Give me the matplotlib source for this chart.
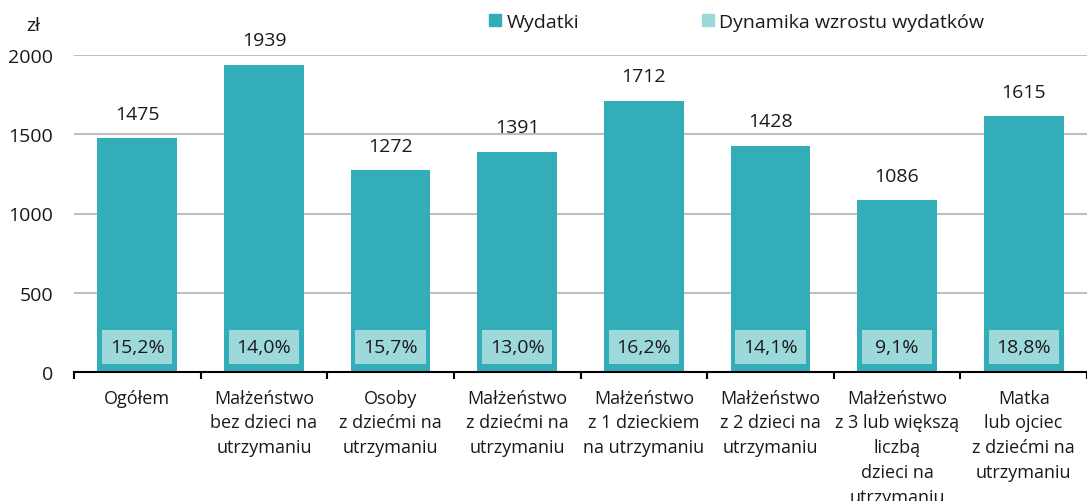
import numpy as np
import matplotlib.pyplot as plt
from matplotlib.patches import Patch

plt.rcParams['font.family'] = ['Open Sans', 'DejaVu Sans']

# dane
kategorie = ['Ogółem',
             'Małżeństwo\nbez dzieci na\nutrzymaniu',
             'Osoby\nz dziećmi na\nutrzymaniu',
             'Małżeństwo\nz dziećmi na\nutrzymaniu',
             'Małżeństwo\nz 1 dzieckiem\nna utrzymaniu',
             'Małżeństwo\nz 2 dzieci na\nutrzymaniu',
             'Małżeństwo\nz 3 lub większą\nliczbą\ndzieci na\nutrzymaniu',
             'Matka\nlub ojciec\nz dziećmi na\nutrzymaniu']
wydatki = [1475, 1939, 1272, 1391, 1712, 1428, 1086, 1615]
dynamika = [15.2, 14.0, 15.7, 13.0, 16.2, 14.1, 9.1, 18.8]

kolor_wyd = '#33adb8'
kolor_dyn = '#9dd8db'
kolor_txt = '#1a1a1a'
fs = 14

fig = plt.figure(figsize=(10.87, 5.02), dpi=100)
# wykres jest przyciety z prawej strony (jak w oryginale)
ax = fig.add_axes([74 / 1087, 129 / 502, 1013 / 1087, 317 / 502])

x = np.arange(len(kategorie))
ax.bar(x, wydatki, width=0.63, color=kolor_wyd, zorder=2)
# ramki z dynamika wzrostu
ax.bar(x, 215, bottom=50, width=0.555, color=kolor_dyn, zorder=3)
for xi, w, d in zip(x, wydatki, dynamika):
    ax.annotate(f'{w}', (xi, w), xytext=(0, 11), textcoords='offset points',
                ha='center', va='bottom', fontsize=fs, color=kolor_txt)
    ax.text(xi, 157, f'{d:.1f}%'.replace('.', ','), ha='center', va='center',
            fontsize=fs, color=kolor_txt, zorder=4)

ax.set_xlim(-0.5, -0.5 + 1013 / 128)
ax.set_ylim(0, 2000)
ax.set_yticks([0, 500, 1000, 1500, 2000])
ax.yaxis.grid(True, color='#bfbfbf', lw=1.5, zorder=0)
ax.set_axisbelow(True)
ax.tick_params(axis='y', length=0, pad=15, labelsize=fs, labelcolor=kolor_txt)

# etykiety kategorii miedzy kreskami
ax.set_xticks(np.arange(len(kategorie) + 1) - 0.5)
ax.set_xticklabels([])
ax.set_xticks(x, minor=True)
ax.set_xticklabels(kategorie, minor=True, fontsize=13, color=kolor_txt, linespacing=1.48, va='top')
ax.tick_params(axis='x', which='major', length=5, width=1.5, color='black', direction='out')
ax.tick_params(axis='x', which='minor', length=0, pad=12)

for s in ['left', 'right', 'top']:
    ax.spines[s].set_visible(False)
ax.spines['bottom'].set_linewidth(1.5)
ax.spines['bottom'].set_zorder(5)

fig.text(33 / 1087, 1 - 26 / 502, 'zł', ha='center', va='center', fontsize=fs, color=kolor_txt)

uchwyty = [Patch(color=kolor_wyd, label='Wydatki'),
           Patch(color=kolor_dyn, label='Dynamika wzrostu wydatków')]
fig.legend(handles=uchwyty, loc='center left', bbox_to_anchor=(471 / 1087, 1 - 23 / 502),
           ncol=2, frameon=False, fontsize=fs, handlelength=0.62, handleheight=0.62,
           handletextpad=0.3, columnspacing=6.3, labelcolor=kolor_txt)

fig.savefig('out.png', dpi=100)
